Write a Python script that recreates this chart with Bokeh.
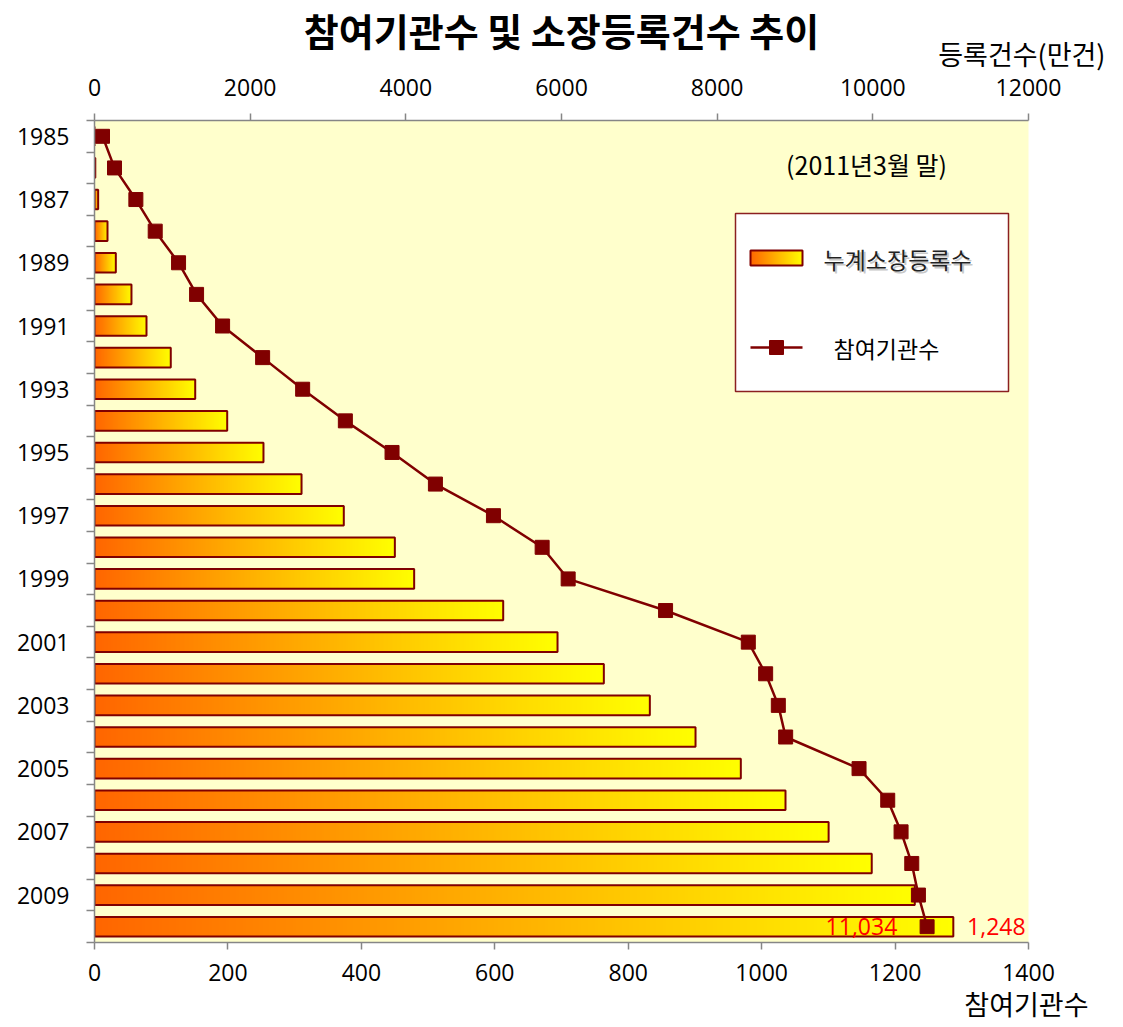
import numpy as np
from bokeh.plotting import figure
from bokeh.models import Range1d, LinearAxis, FixedTicker, Label, ColumnDataSource, Title
from bokeh.embed import file_html
from bokeh.resources import INLINE

# ---------------- data ----------------
years = list(range(1985, 2011))
# cumulative holdings registered (만건) -> top axis
holdings = [0, 10, 47, 167, 274, 475, 668, 980, 1294, 1705,
            2171, 2660, 3203, 3859, 4107, 5251, 5949, 6544, 7135, 7722,
            8304, 8878, 9432, 9986, 10539, 11034]
# participating institutions -> bottom axis
institutions = [12, 30, 62, 91, 126, 153, 192, 252, 312, 376,
                446, 511, 598, 671, 710, 856, 980, 1006, 1025, 1036,
                1146, 1189, 1209, 1225, 1235, 1248]
top_ticks = [0, 2000, 4000, 6000, 8000, 10000, 12000]
bottom_ticks = [0, 200, 400, 600, 800, 1000, 1200, 1400]
year_labels = [y for y in years if y % 2 == 1]

title_text = "참여기관수 및 소장등록건수 추이"
top_axis_name = "등록건수(만건)"
bottom_axis_name = "참여기관수"
note_text = "(2011년3월 말)"
legend_bar = "누계소장등록수"
legend_line = "참여기관수"

# ---------------- style / layout ----------------
DARK = "#800000"
AXIS = "#868686"
KFONT = "Noto Sans CJK KR"
NFONT = "Open Sans"
TICK_FS = "23px"

W, H = 1120, 1024
FRAME_L, FRAME_R, FRAME_T, FRAME_B = 94, 1028, 120, 942  # px
X_MAX = 12000
Y_TOP, Y_BOT = 1984.5, 2010.5


def xb(px):
    return (px - FRAME_L) / (FRAME_R - FRAME_L) * X_MAX


def yr(py):
    return Y_TOP + (py - FRAME_T) / (FRAME_B - FRAME_T) * (Y_BOT - Y_TOP)


p = figure(width=W, height=H,
           x_range=Range1d(0, X_MAX), y_range=Range1d(Y_BOT, Y_TOP),
           x_axis_location="above",
           output_backend="svg", toolbar_location=None,
           min_border_left=FRAME_L, min_border_right=W - FRAME_R,
           min_border_top=FRAME_T, min_border_bottom=H - FRAME_B,
           background_fill_color="#FFFFCC", border_fill_color="white",
           outline_line_color=None)
p.extra_x_ranges = {"inst": Range1d(0, 1400)}
p.xgrid.visible = False
p.ygrid.visible = False


def style_axis(ax):
    ax.axis_line_color = AXIS
    ax.axis_line_width = 1.5
    ax.major_tick_line_color = AXIS
    ax.major_tick_line_width = 1.5
    ax.major_tick_in = 0
    ax.major_tick_out = 7
    ax.minor_tick_line_color = None
    ax.major_label_text_font = NFONT
    ax.major_label_text_font_size = TICK_FS
    ax.major_label_text_color = "black"


top_ax = p.xaxis[0]
top_ax.ticker = FixedTicker(ticks=top_ticks)
style_axis(top_ax)
top_ax.major_label_standoff = 18

bot_ax = LinearAxis(x_range_name="inst", ticker=FixedTicker(ticks=bottom_ticks))
style_axis(bot_ax)
bot_ax.major_label_standoff = 14
p.add_layout(bot_ax, "below")

yax = p.yaxis[0]
yax.ticker = FixedTicker(ticks=year_labels, minor_ticks=[y - 0.5 for y in years] + [years[-1] + 0.5])
style_axis(yax)
yax.major_tick_line_color = None
yax.major_tick_out = 0
yax.minor_tick_line_color = AXIS
yax.minor_tick_line_width = 1.5
yax.minor_tick_in = 0
yax.minor_tick_out = 8
yax.major_label_standoff = 17
yax.major_label_overrides = {y: str(y) for y in year_labels}

# titles / axis names (outside the frame)
p.add_layout(Title(text=top_axis_name, align="right", offset=-77, text_font=KFONT,
                   text_font_size="27px", text_font_style="normal", text_color="black",
                   standoff=6), "above")
p.title.text = title_text
p.title.align = "center"
p.title.text_font = KFONT
p.title.text_font_size = "38px"
p.title.text_font_style = "bold"
p.title.text_color = "black"
p.title.standoff = -56
p.add_layout(Title(text=bottom_axis_name, align="right", offset=-60, text_font=KFONT,
                   text_font_size="27px", text_font_style="normal", text_color="black",
                   standoff=-3), "below")

# gradient image (orange -> yellow)
grad = np.zeros((1, 256), dtype=np.uint32)
view = grad.view(dtype=np.uint8).reshape((1, 256, 4))
view[0, :, 0] = 255
view[0, :, 1] = np.linspace(102, 255, 256).astype(np.uint8)
view[0, :, 2] = 0
view[0, :, 3] = 255

BAR_H = 0.62
src = ColumnDataSource(dict(y=years, v=holdings, x0=[0] * len(years),
                            img=[grad] * len(years)))
p.image_rgba(image="img", x="x0", y="y", dw="v", dh=BAR_H, anchor="center_left", source=src)
p.hbar(y="y", left=0, right="v", height=BAR_H, fill_color=None,
       line_color=DARK, line_width=2, source=src)

p.line(institutions, years, x_range_name="inst", line_color=DARK, line_width=2.5)
p.scatter(institutions, years, x_range_name="inst", marker="square", size=14,
          fill_color=DARK, line_color=DARK)

# legend (drawn by hand for the gradient swatch)
p.quad(left=xb(735), right=xb(1008), top=yr(213), bottom=yr(391),
       fill_color="white", line_color="#8B2020", line_width=1.5)
p.image_rgba(image=[grad], x=xb(750), y=yr(257), dw=xb(802) - xb(750), dh=yr(265) - yr(250),
             anchor="center_left")
p.quad(left=xb(750), right=xb(802), top=yr(250), bottom=yr(265),
       fill_color=None, line_color=DARK, line_width=2)
p.line([xb(750), xb(802)], [yr(347), yr(347)], line_color=DARK, line_width=2.5)
p.scatter([xb(776)], [yr(347)], marker="square", size=14, fill_color=DARK, line_color=DARK)

p.add_layout(Label(x=xb(823), y=yr(258), x_offset=2, y_offset=-2, text=legend_bar,
                   text_font=KFONT, text_font_size="23px", text_color="#b0b0b0",
                   text_alpha=0.7, text_baseline="middle", text_align="left"))
p.add_layout(Label(x=xb(823), y=yr(258), text=legend_bar, text_font=KFONT,
                   text_font_size="23px", text_color="#222222",
                   text_baseline="middle", text_align="left"))
p.add_layout(Label(x=xb(833), y=yr(347), text=legend_line, text_font=KFONT,
                   text_font_size="23px", text_color="black",
                   text_baseline="middle", text_align="left"))

p.add_layout(Label(x=xb(866), y=yr(163), text=note_text, text_font=KFONT,
                   text_font_size="25px", text_color="black",
                   text_baseline="middle", text_align="center"))

# data labels for the last year
p.add_layout(Label(x=holdings[-1], y=years[-1], x_offset=-56, text=f"{holdings[-1]:,}",
                   text_font=NFONT, text_font_size="23px", text_color="red",
                   text_baseline="middle", text_align="right"))
p.add_layout(Label(x=institutions[-1], y=years[-1], x_range_name="inst", x_offset=40,
                   text=f"{institutions[-1]:,}", text_font=NFONT, text_font_size="23px",
                   text_color="red", text_baseline="middle", text_align="left"))

open("out.html", "w", encoding="utf-8").write(file_html(p, INLINE, title=title_text))
